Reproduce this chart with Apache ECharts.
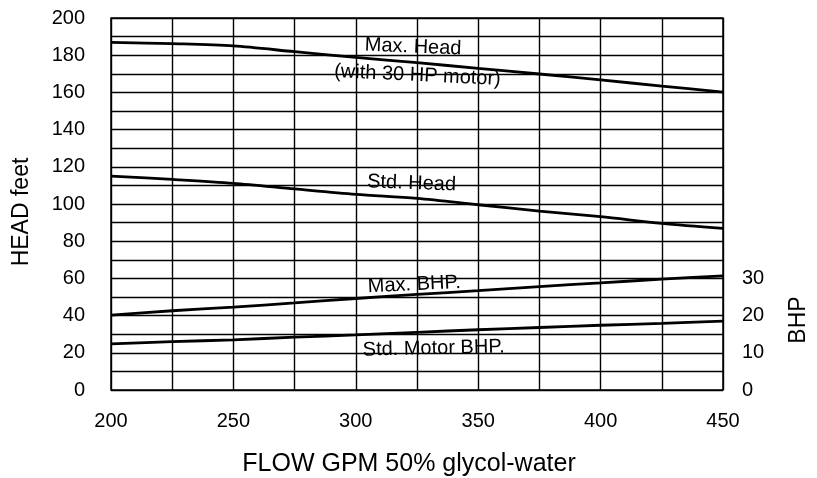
<!DOCTYPE html>
<html>
<head>
<meta charset="utf-8">
<script src="https://cdn.jsdelivr.net/npm/echarts@6/dist/echarts.min.js"></script>
<style>
  html, body { margin: 0; padding: 0; background: #fff; }
  #main { width: 817px; height: 478px; }
</style>
</head>
<body>
<div id="main"></div>
<script>
// flow points (GPM) and curve readings
const flow = [200, 225, 250, 275, 300, 325, 350, 375, 400, 425, 450];
const maxHead = [186.9, 186.2, 185.0, 181.9, 178.8, 176.0, 172.9, 169.9, 166.7, 163.4, 160.2];
const stdHead = [115.0, 113.2, 111.1, 108.1, 105.2, 103.0, 99.6, 96.2, 93.2, 89.6, 86.9];
// BHP curves, read on the right axis
const maxBhp = [20.1, 21.3, 22.3, 23.4, 24.6, 25.7, 26.7, 27.8, 28.8, 29.8, 30.7];
const stdBhp = [12.4, 13.0, 13.5, 14.2, 14.8, 15.5, 16.2, 16.8, 17.4, 17.9, 18.5];

// curve labels (text, flow, head, tilt in degrees)
const noteText = ['Max. Head', '(with 30 HP motor)', 'Std. Head', 'Max. BHP.', 'Std. Motor BHP.'];
const noteFlow = [323.4, 325.2, 322.8, 323.9, 331.8];
const noteHead = [184.4, 169.1, 111.1, 56.7, 22.3];
const noteTilt = [-2.4, -2.7, -2.1, 2.6, 1.3];

const FONT = 'Liberation Sans, Arial, Helvetica, sans-serif';

const chart = echarts.init(document.getElementById('main'));

const pairs = (ys) => flow.map((x, i) => [x, ys[i]]);

const lineStyle = {color: '#000', width: 2.8};

chart.setOption({
  animation: false,
  backgroundColor: '#fff',
  grid: {
    left: 111, right: 94, top: 18, bottom: 88,
    show: true, borderColor: '#000', borderWidth: 1.5
  },
  xAxis: {
    type: 'value',
    min: 200, max: 450, interval: 25,
    axisLine: {show: false},
    axisTick: {show: false},
    axisLabel: {
      color: '#000', fontSize: 20, fontFamily: FONT, margin: 21,
      formatter: v => (v % 50 === 0 ? String(v) : '')
    },
    splitLine: {show: true, lineStyle: {color: '#000', width: 1.4}}
  },
  yAxis: [
    {
      type: 'value',
      min: 0, max: 200, interval: 10,
      axisLine: {show: false},
      axisTick: {show: false},
      axisLabel: {
        color: '#000', fontSize: 20, fontFamily: FONT, margin: 26,
        formatter: v => (v % 20 === 0 ? String(v) : '')
      },
      splitLine: {show: true, lineStyle: {color: '#000', width: 1.4}}
    },
    {
      type: 'value',
      position: 'right',
      min: 0, max: 100, interval: 10,
      axisLine: {show: false},
      axisTick: {show: false},
      axisLabel: {
        color: '#000', fontSize: 20, fontFamily: FONT, margin: 19,
        formatter: v => (v <= 30 ? String(v) : '')
      },
      splitLine: {show: false}
    }
  ],
  series: [
    {name: 'Max. Head', type: 'line', yAxisIndex: 0, data: pairs(maxHead), symbol: 'none', smooth: 0.3, lineStyle},
    {name: 'Std. Head', type: 'line', yAxisIndex: 0, data: pairs(stdHead), symbol: 'none', smooth: 0.3, lineStyle},
    {name: 'Max. BHP', type: 'line', yAxisIndex: 1, data: pairs(maxBhp), symbol: 'none', smooth: 0.3, lineStyle},
    {name: 'Std. Motor BHP', type: 'line', yAxisIndex: 1, data: pairs(stdBhp), symbol: 'none', smooth: 0.3, lineStyle}
  ]
});

// place the curve labels through the head/flow scales
const notes = noteText.map((t, i) => {
  const p = chart.convertToPixel({seriesIndex: 0}, [noteFlow[i], noteHead[i]]);
  return {
    type: 'text',
    x: p[0], y: p[1],
    rotation: noteTilt[i] * Math.PI / 180,
    style: {text: t, fill: '#000', font: '20px ' + FONT, align: 'center', verticalAlign: 'middle'},
    z: 10
  };
});

// axis titles
const title = (t, x, y, rot, size) => ({
  type: 'text', x, y, rotation: rot,
  style: {text: t, fill: '#000', font: size + 'px ' + FONT, align: 'center', verticalAlign: 'middle'}
});
notes.push(title('FLOW GPM 50% glycol-water', 409, 464, 0, 25));
notes.push(title('HEAD feet', 22, 212, Math.PI / 2, 23));
notes.push(title('BHP', 799, 320, Math.PI / 2, 23));

chart.setOption({graphic: notes});
</script>
</body>
</html>
